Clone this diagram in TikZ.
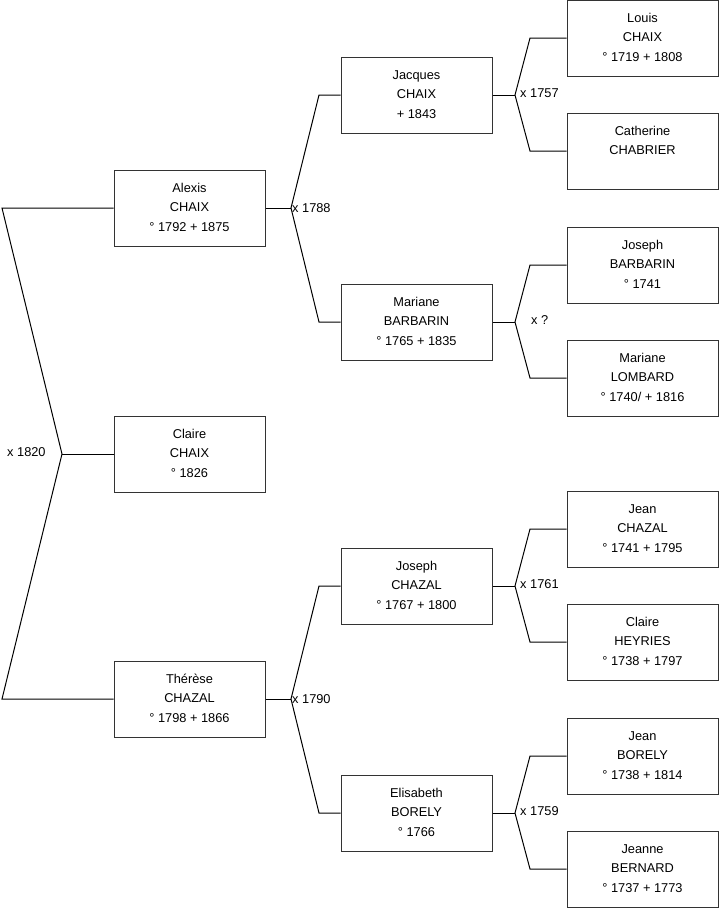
\documentclass[tikz,border=0pt]{standalone}
\usepackage{fontspec}
\setmainfont{Liberation Sans}
\newcommand{\pers}[3]{\strut #1\\\strut #2\\\strut #3}
\tikzset{
  person/.style={draw=black!80, line width=1pt, rectangle, minimum width=151, minimum height=76, inner sep=0pt, align=center, font=\fontsize{12.8}{19.5}\selectfont},
  link/.style={draw=black, line width=1pt},
  marr/.style={anchor=west, inner sep=0pt, font=\fontsize{12.8}{19.5}\selectfont},
}
\begin{document}
\begin{tikzpicture}[x=1pt,y=-1pt]
\useasboundingbox (0,0) rectangle (719,908);
% generation 1
\node[person] (alexis)  at (189.5,208) {\pers{Alexis}{CHAIX}{° 1792 + 1875}};
\node[person] (claire)  at (189.5,454) {\pers{Claire}{CHAIX}{° 1826}};
\node[person] (therese) at (189.5,699) {\pers{Thérèse}{CHAZAL}{° 1798 + 1866}};
% generation 2
\node[person] (jacques)   at (416.5,95)  {\pers{Jacques}{CHAIX}{+ 1843}};
\node[person] (mbarbarin) at (416.5,322) {\pers{Mariane}{BARBARIN}{° 1765 + 1835}};
\node[person] (jchazal)   at (416.5,586) {\pers{Joseph}{CHAZAL}{° 1767 + 1800}};
\node[person] (elisabeth) at (416.5,813) {\pers{Elisabeth}{BORELY}{° 1766}};
% generation 3
\node[person] (louis)     at (642.5,38)  {\pers{Louis}{CHAIX}{° 1719 + 1808}};
\node[person] (catherine) at (642.5,151) {\pers{Catherine}{CHABRIER}{}};
\node[person] (jbarbarin) at (642.5,265) {\pers{Joseph}{BARBARIN}{° 1741}};
\node[person] (mlombard)  at (642.5,378) {\pers{Mariane}{LOMBARD}{° 1740/ + 1816}};
\node[person] (jeanc)     at (642.5,529) {\pers{Jean}{CHAZAL}{° 1741 + 1795}};
\node[person] (cheyries)  at (642.5,642) {\pers{Claire}{HEYRIES}{° 1738 + 1797}};
\node[person] (jeanb)     at (642.5,756) {\pers{Jean}{BORELY}{° 1738 + 1814}};
\node[person] (jeanne)    at (642.5,869) {\pers{Jeanne}{BERNARD}{° 1737 + 1773}};
% left bracket
\coordinate (L1) at (2,208);
\coordinate (L0) at (62,454);
\coordinate (L2) at (2,699);
\draw[link] (alexis.west) -- (L1) -- (L0) -- (L2) -- (therese.west);
\draw[link] (L0) -- (claire.west);
\node[marr] (m1820) at (7,452) {x 1820};
% middle brackets
\coordinate (Va) at (291,208);
\coordinate (Va1) at (319,95);
\coordinate (Va2) at (319,322);
\draw[link] (alexis.east) -- (Va);
\draw[link] (jacques.west) -- (Va1) -- (Va) -- (Va2) -- (mbarbarin.west);
\node[marr] (m1788) at (292,208) {x 1788};
\coordinate (Vt) at (291,699);
\coordinate (Vt1) at (319,586);
\coordinate (Vt2) at (319,813);
\draw[link] (therese.east) -- (Vt);
\draw[link] (jchazal.west) -- (Vt1) -- (Vt) -- (Vt2) -- (elisabeth.west);
\node[marr] (m1790) at (292,699) {x 1790};
% right brackets
\coordinate (Rj) at (515,95);
\coordinate (Rj1) at (530,38);
\coordinate (Rj2) at (530,151);
\draw[link] (jacques.east) -- (Rj);
\draw[link] (louis.west) -- (Rj1) -- (Rj) -- (Rj2) -- (catherine.west);
\node[marr] (m1757) at (520,93) {x 1757};
\coordinate (Rm) at (515,322);
\coordinate (Rm1) at (530,265);
\coordinate (Rm2) at (530,378);
\draw[link] (mbarbarin.east) -- (Rm);
\draw[link] (jbarbarin.west) -- (Rm1) -- (Rm) -- (Rm2) -- (mlombard.west);
\node[marr] (mq) at (531,320) {x ?};
\coordinate (Rc) at (515,586);
\coordinate (Rc1) at (530,529);
\coordinate (Rc2) at (530,642);
\draw[link] (jchazal.east) -- (Rc);
\draw[link] (jeanc.west) -- (Rc1) -- (Rc) -- (Rc2) -- (cheyries.west);
\node[marr] (m1761) at (520,584) {x 1761};
\coordinate (Re) at (515,813);
\coordinate (Re1) at (530,756);
\coordinate (Re2) at (530,869);
\draw[link] (elisabeth.east) -- (Re);
\draw[link] (jeanb.west) -- (Re1) -- (Re) -- (Re2) -- (jeanne.west);
\node[marr] (m1759) at (520,811) {x 1759};
\end{tikzpicture}
\end{document}
